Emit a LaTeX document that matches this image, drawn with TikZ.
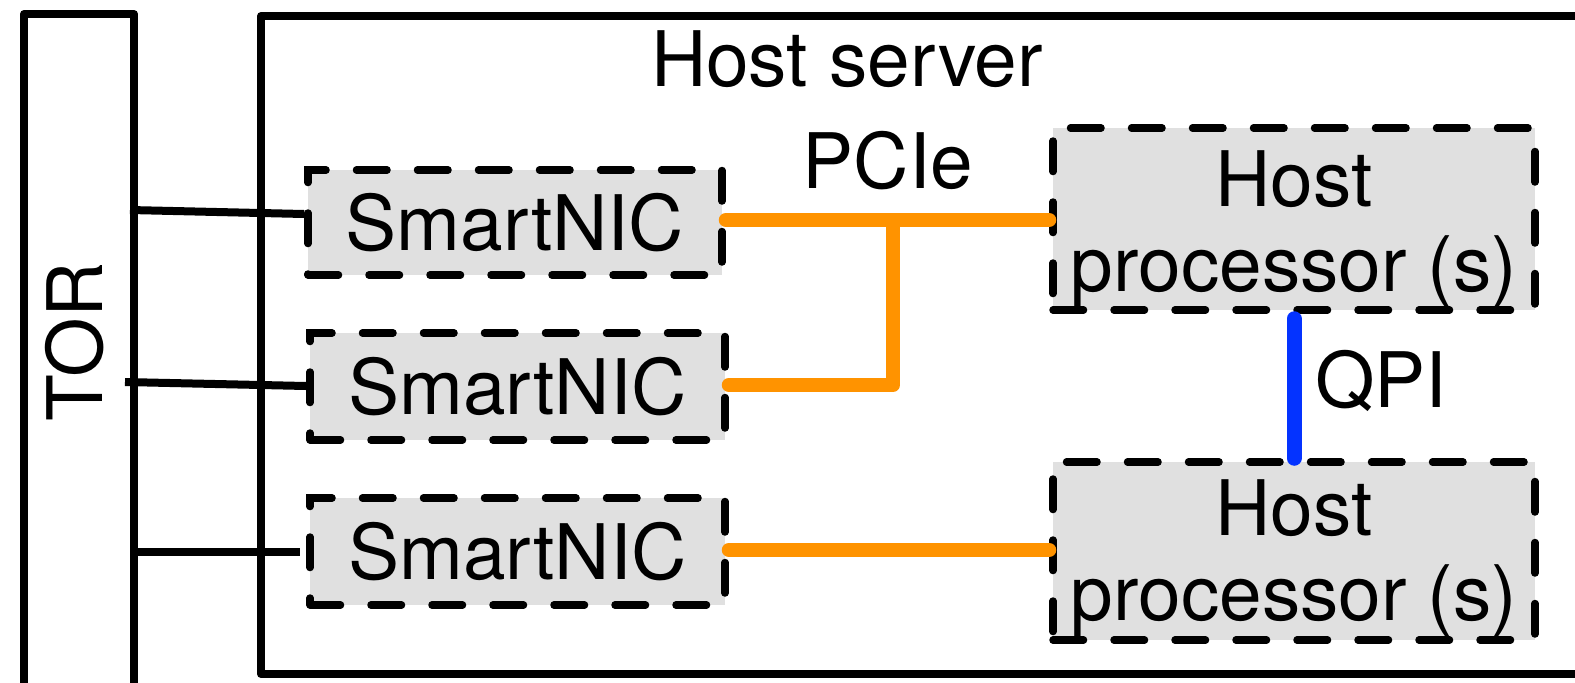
\documentclass[tikz,border=0pt]{standalone}
\usepackage{fontspec}
\setmainfont{TeX Gyre Heros}
\definecolor{pcie}{HTML}{FF9300}
\definecolor{qpi}{HTML}{0433FF}
\definecolor{boxfill}{HTML}{E0E0E0}
\tikzset{
  solidbox/.style={draw=black, line width=4pt, line join=round},
  dbox/.style={draw=black, fill=boxfill, line width=3.75pt, line cap=round,
    dash pattern=on 15.25pt off 15.25pt, inner sep=0pt},
  lbl/.style={font=\fontsize{38.3}{42.5}\selectfont, inner sep=0pt},
  wire/.style={draw=black, line width=4pt},
  pline/.style={draw=pcie, line width=7pt, line cap=round, line join=round},
  qline/.style={draw=qpi, line width=7.5pt, line cap=round}
}
\begin{document}
\begin{tikzpicture}[x=0.5pt, y=-0.5pt]
\useasboundingbox (0,0) rectangle (1575,682);
\clip (0,0) rectangle (1575,682);
% TOR and host server frames
\node[solidbox, minimum width=55pt, minimum height=350pt, inner sep=0pt, anchor=north west] (tor) at (20,10) {};
\node[lbl, rotate=90] (torlbl) at (75,342) {TOR};
\node[solidbox, minimum width=680pt, minimum height=329pt, inner sep=0pt, anchor=north west] (host) at (257,12) {};
\node[lbl, anchor=base] (hostlbl) at (847,86) {Host server};
% SmartNICs
\node[dbox, minimum width=207pt, minimum height=52.5pt] (sn1) at (515,222.5) {};
\node[lbl] at (sn1) {SmartNIC};
\node[dbox, minimum width=207.5pt, minimum height=53.5pt] (sn2) at (517.5,386.5) {};
\node[lbl] at (sn2) {SmartNIC};
\node[dbox, minimum width=207.5pt, minimum height=53.5pt] (sn3) at (517.5,551.5) {};
\node[lbl] at (sn3) {SmartNIC};
% Host processors
\node[dbox, minimum width=241pt, minimum height=91pt] (hp1) at (1294,219) {};
\node[lbl, align=center] at (1294,229.5) {Host\\processor (s)};
\node[dbox, minimum width=241pt, minimum height=89pt] (hp2) at (1294,551) {};
\node[lbl, align=center] at (1294,558.5) {Host\\processor (s)};
% labels
\node[lbl, anchor=base] (pcielbl) at (888,188) {PCIe};
\node[lbl, anchor=base] (qpilbl) at (1381,407) {QPI};
% TOR wires
\coordinate (t1) at (130,210);
\coordinate (t2) at (125,382);
\coordinate (t3) at (130,552);
\coordinate (s3) at (300,552);
\draw[wire] (t1) -- (sn1.west |- 0,214);
\draw[wire] (t2) -- (sn2.west |- 0,386);
\draw[wire] (t3) -- (s3);
% PCIe
\coordinate (j1) at (893,220);
\coordinate (j2) at (893,385);
\draw[pline] (sn1.east |- 0,220) -- (hp1.west |- 0,220);
\draw[pline] (j1) -- (j2) -- (sn2.east |- 0,385);
\draw[pline] (sn3.east |- 0,550) -- (hp2.west |- 0,550);
% QPI
\draw[qline] ([yshift=-2.5pt]hp1.south) -- (hp2.north);
\end{tikzpicture}
\end{document}
